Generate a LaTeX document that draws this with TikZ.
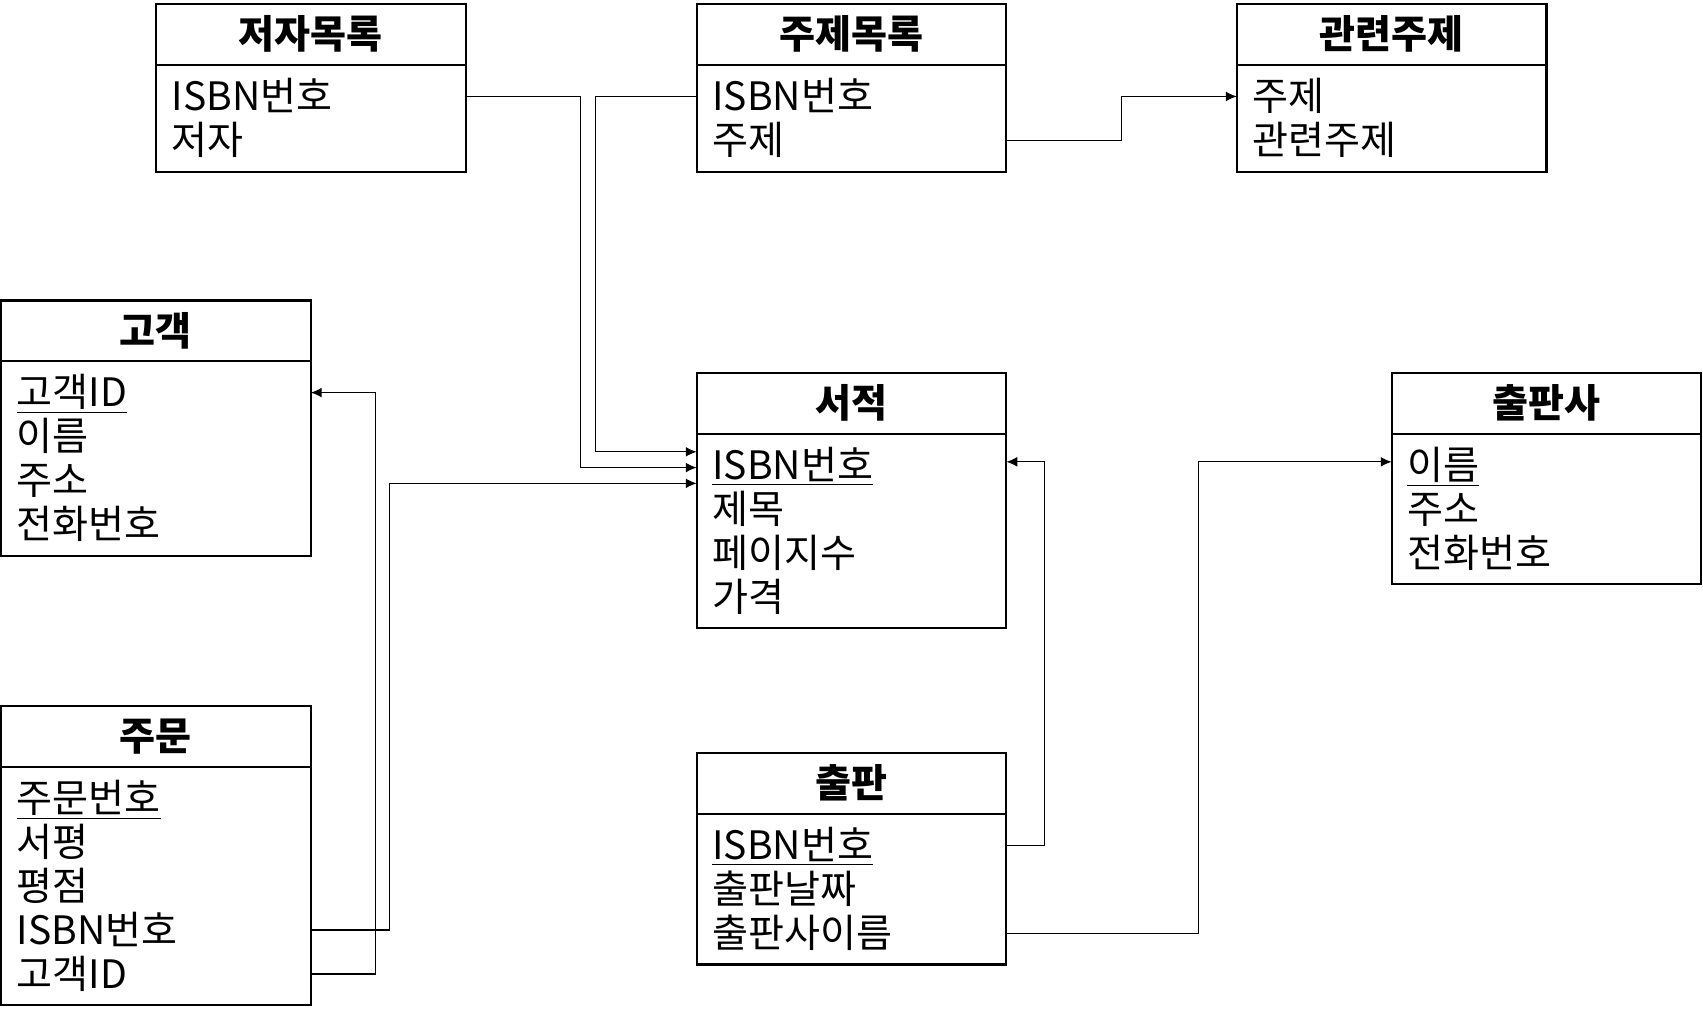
\documentclass[tikz,border=0pt]{standalone}
\usepackage{fontspec}
\setmainfont{Noto Sans CJK KR}
\usepackage{tikz}
\usetikzlibrary{positioning, fit, arrows.meta}
\tikzstyle{Arrow} = [
%Create custom arrow style:
line width = 0.5pt,
-{Latex[length=5pt, width=4.5pt]}
]

\begin{document}
\begin{tikzpicture}[x = 0.5pt, y = -0.5pt,
				entity/.style = {rectangle, draw, line width = 1pt, font = \fontsize{18pt}{20pt}\selectfont\bfseries, minimum width = 142.5pt, minimum height = 28pt, inner sep = 0pt, outer sep = 0pt, text height = 16.3pt, text depth = 3.3pt},
				attribute/.style = {rectangle, align = left, font = \fontsize{18pt}{20pt}\selectfont, text width = 128pt, inner xsep = 7.25pt, inner ysep = 0pt, outer sep = 0pt, minimum height = 20.25pt, text height = 16.3pt, text depth = 3.3pt},
				table/.style = {rectangle, draw, line width = 1pt, inner xsep = 0pt, inner ysep = 4.25pt, outer sep = 0pt},
			]
			\useasboundingbox (0,0) rectangle (1567,940);

			% 저자목록
			\node[entity](AU) at (286,32){저자목록};
			\node[attribute, below = 4.25pt of AU](AU1){ISBN번호};
			\node[attribute, below = 0pt of AU1](AU2){저자};
			\node[table, fit = (AU1)(AU2)](AUt){};

			% 주제목록
			\node[entity](SU) at (783.5,32){주제목록};
			\node[attribute, below = 4.25pt of SU](SU1){ISBN번호};
			\node[attribute, below = 0pt of SU1](SU2){주제};
			\node[table, fit = (SU1)(SU2)](SUt){};

			% 관련주제
			\node[entity](RS) at (1280.5,32){관련주제};
			\node[attribute, below = 4.25pt of RS](RS1){주제};
			\node[attribute, below = 0pt of RS1](RS2){관련주제};
			\node[table, fit = (RS1)(RS2)](RSt){};

			% 고객
			\node[entity](CU) at (143.5,304.5){고객};
			\node[attribute, below = 4.25pt of CU](CU1){\underline{고객ID}};
			\node[attribute, below = 0pt of CU1](CU2){이름};
			\node[attribute, below = 0pt of CU2](CU3){주소};
			\node[attribute, below = 0pt of CU3](CU4){전화번호};
			\node[table, fit = (CU1)(CU4)](CUt){};

			% 서적
			\node[entity](BK) at (783.5,371){서적};
			\node[attribute, below = 4.25pt of BK](BK1){\underline{ISBN번호}};
			\node[attribute, below = 0pt of BK1](BK2){제목};
			\node[attribute, below = 0pt of BK2](BK3){페이지수};
			\node[attribute, below = 0pt of BK3](BK4){가격};
			\node[table, fit = (BK1)(BK4)](BKt){};

			% 출판사
			\node[entity](PR) at (1423,371){출판사};
			\node[attribute, below = 4.25pt of PR](PR1){\underline{이름}};
			\node[attribute, below = 0pt of PR1](PR2){주소};
			\node[attribute, below = 0pt of PR2](PR3){전화번호};
			\node[table, fit = (PR1)(PR3)](PRt){};

			% 주문
			\node[entity](OR) at (143.5,677.5){주문};
			\node[attribute, below = 4.25pt of OR](OR1){\underline{주문번호}};
			\node[attribute, below = 0pt of OR1](OR2){서평};
			\node[attribute, below = 0pt of OR2](OR3){평점};
			\node[attribute, below = 0pt of OR3](OR4){ISBN번호};
			\node[attribute, below = 0pt of OR4](OR5){고객ID};
			\node[table, fit = (OR1)(OR5)](ORt){};

			% 출판
			\node[entity](PB) at (783.5,721){출판};
			\node[attribute, below = 4.25pt of PB](PB1){\underline{ISBN번호}};
			\node[attribute, below = 0pt of PB1](PB2){출판날짜};
			\node[attribute, below = 0pt of PB2](PB3){출판사이름};
			\node[table, fit = (PB1)(PB3)](PBt){};

			\draw[Arrow](SU1.west) -- ++(-93,0) |- ([yshift = 6pt]BK1.west);
			\draw[Arrow](AU1.east) -- ++(106,0) |- ([yshift = -1.25pt]BK1.west);
			\draw[Arrow](OR4.east) -- ++(72,0) |- ([yshift = -8.5pt]BK1.west);
			\draw[Arrow](OR5.east) -- ++(59.6,0) |- (CU1.east);
			\draw[Arrow](SU2.east) -- ++(106,0) |- (RS1.west);
			\draw[Arrow](PB1.east) -- ++(35,0) |- ([yshift = 1.4pt]BK1.east);
			\draw[Arrow](PB3.east) -- ++(177,0) |- ([yshift = 1.4pt]PR1.west);

		\end{tikzpicture}
\end{document}
